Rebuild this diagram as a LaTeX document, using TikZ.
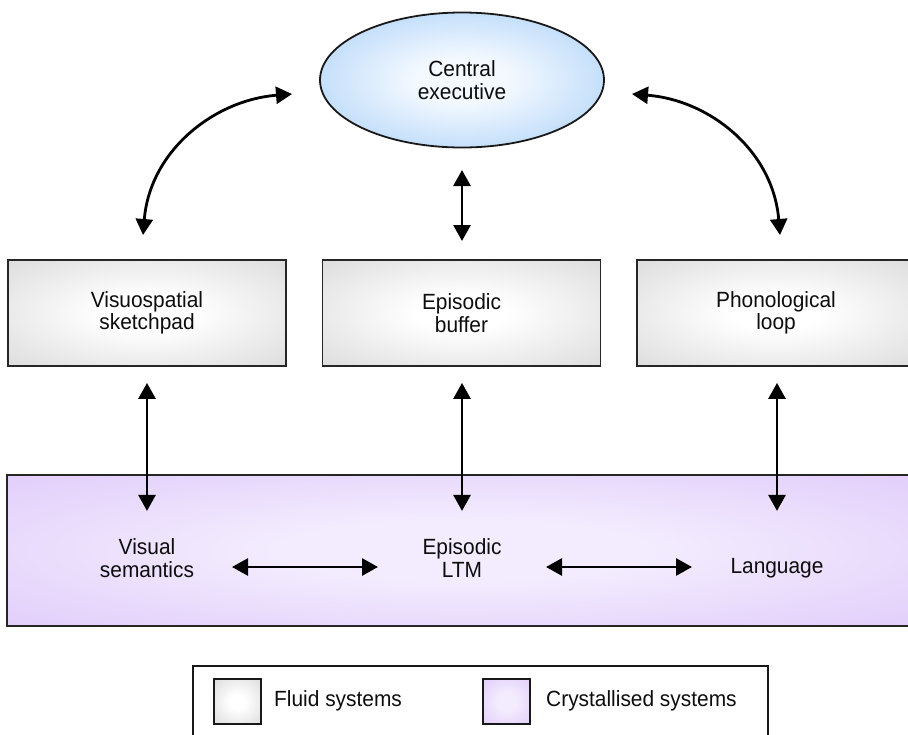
\documentclass[tikz,border=0pt]{standalone}
\usepackage{fontspec}
\setmainfont[FakeStretch=0.95]{Liberation Sans}
\usetikzlibrary{arrows.meta,shapes.geometric}

% fill colours
\definecolor{fluidedge}{HTML}{D0D0D0}
\definecolor{crystedge}{HTML}{D9BFF9}
\definecolor{crystmid}{HTML}{F3ECFE}
\definecolor{execedge}{HTML}{8BC0F5}
\definecolor{execmid}{HTML}{F4F9FF}

% soft radial glows, light in the middle
\pgfdeclareradialshading{fluidglow}{\pgfpoint{0bp}{0bp}}{color(0bp)=(white); color(8bp)=(white); color(46bp)=(fluidedge); color(72bp)=(fluidedge)}
\pgfdeclareradialshading{crystglow}{\pgfpoint{0bp}{0bp}}{color(0bp)=(crystmid); color(10bp)=(crystmid); color(48bp)=(crystedge); color(72bp)=(crystedge)}
\pgfdeclareradialshading{execglow}{\pgfpoint{0bp}{0bp}}{color(0bp)=(execmid); color(8bp)=(execmid); color(46bp)=(execedge); color(72bp)=(execedge)}

\tikzset{
  txt/.style={font=\fontsize{22}{22.5}\selectfont, text=black!95, align=center, inner sep=0pt},
  fluidbox/.style={txt, draw=black!85, line width=1.8pt, shading=fluidglow, shade,
    minimum width=278pt, minimum height=106pt},
  crystband/.style={draw=black!85, line width=1.8pt, shading=crystglow, shade,
    minimum width=910pt, minimum height=151pt, inner sep=0pt},
  execnode/.style={txt, ellipse, draw=black!90, line width=1.8pt, shading=execglow, shade,
    minimum width=284pt, minimum height=135pt},
  swatch/.style={draw=black!90, line width=1.6pt, minimum width=47pt, minimum height=45pt, inner sep=0pt},
  dbl/.style={line width=2.8pt, {Triangle[width=17pt,length=16pt]}-{Triangle[width=17pt,length=16pt]}},
}

\begin{document}
\begin{tikzpicture}[x=1pt,y=-1pt]
\useasboundingbox (0,0) rectangle (908,734);

% crystallised band
\node[crystband] (band) at (462,550.5) {};

% fluid slave systems
\node[fluidbox] (vsp)  at (147,313)   {Visuospatial\\sketchpad};
\node[fluidbox] (ebuf) at (461.5,313) {Episodic\\buffer};
\node[fluidbox] (phon) at (776,313)   {Phonological\\loop};

% central executive
\node[execnode] (ce) at (462,80) {Central\\executive};

% long-term stores
\node[txt, anchor=base] (vsem) at (147,577) {Visual\\semantics};
\node[txt, anchor=base] (eltm) at (462,577) {Episodic\\LTM};
\node[txt, anchor=base] (lang) at (777,573) {Language};

% arrow end points
\coordinate (ceL)  at (292,94);
\coordinate (vspT) at (143,235);
\coordinate (ceR)  at (632,94);
\coordinate (phT)  at (780,235);
\coordinate (ceB)  at (462,170);
\coordinate (ebT)  at (462,241);

% executive to slave systems
\draw[dbl] (vspT) .. controls (150,150) and (215,100) .. (ceL);
\draw[dbl] (phT) .. controls (773,150) and (709,100) .. (ceR);
\draw[dbl] (ceB) -- (ebT);

% slave systems to long-term stores
\draw[dbl] ([yshift=-16pt]vsp.south -| vsem)  -- ([yshift=-144pt]vsp.south -| vsem);
\draw[dbl] ([yshift=-16pt]ebuf.south -| eltm) -- ([yshift=-144pt]ebuf.south -| eltm);
\draw[dbl] ([yshift=-16pt]phon.south -| lang) -- ([yshift=-144pt]phon.south -| lang);

% links between long-term stores
\coordinate (h1a) at (232,567);
\coordinate (h1b) at (378,567);
\coordinate (h2a) at (546,567);
\coordinate (h2b) at (692,567);
\draw[dbl] (h1a) -- (h1b);
\draw[dbl] (h2a) -- (h2b);

% legend
\draw[line width=1.6pt, draw=black!90] (193,740) rectangle (768,666);
\node[swatch, shading=fluidglow, shade] (swf) at (237.5,701.5) {};
\node[txt, anchor=west] (lf) at (274,701) {Fluid systems};
\node[swatch, shading=crystglow, shade] (swc) at (506.5,701.5) {};
\node[txt, anchor=west] (lc) at (546,701) {Crystallised systems};
\end{tikzpicture}
\end{document}
